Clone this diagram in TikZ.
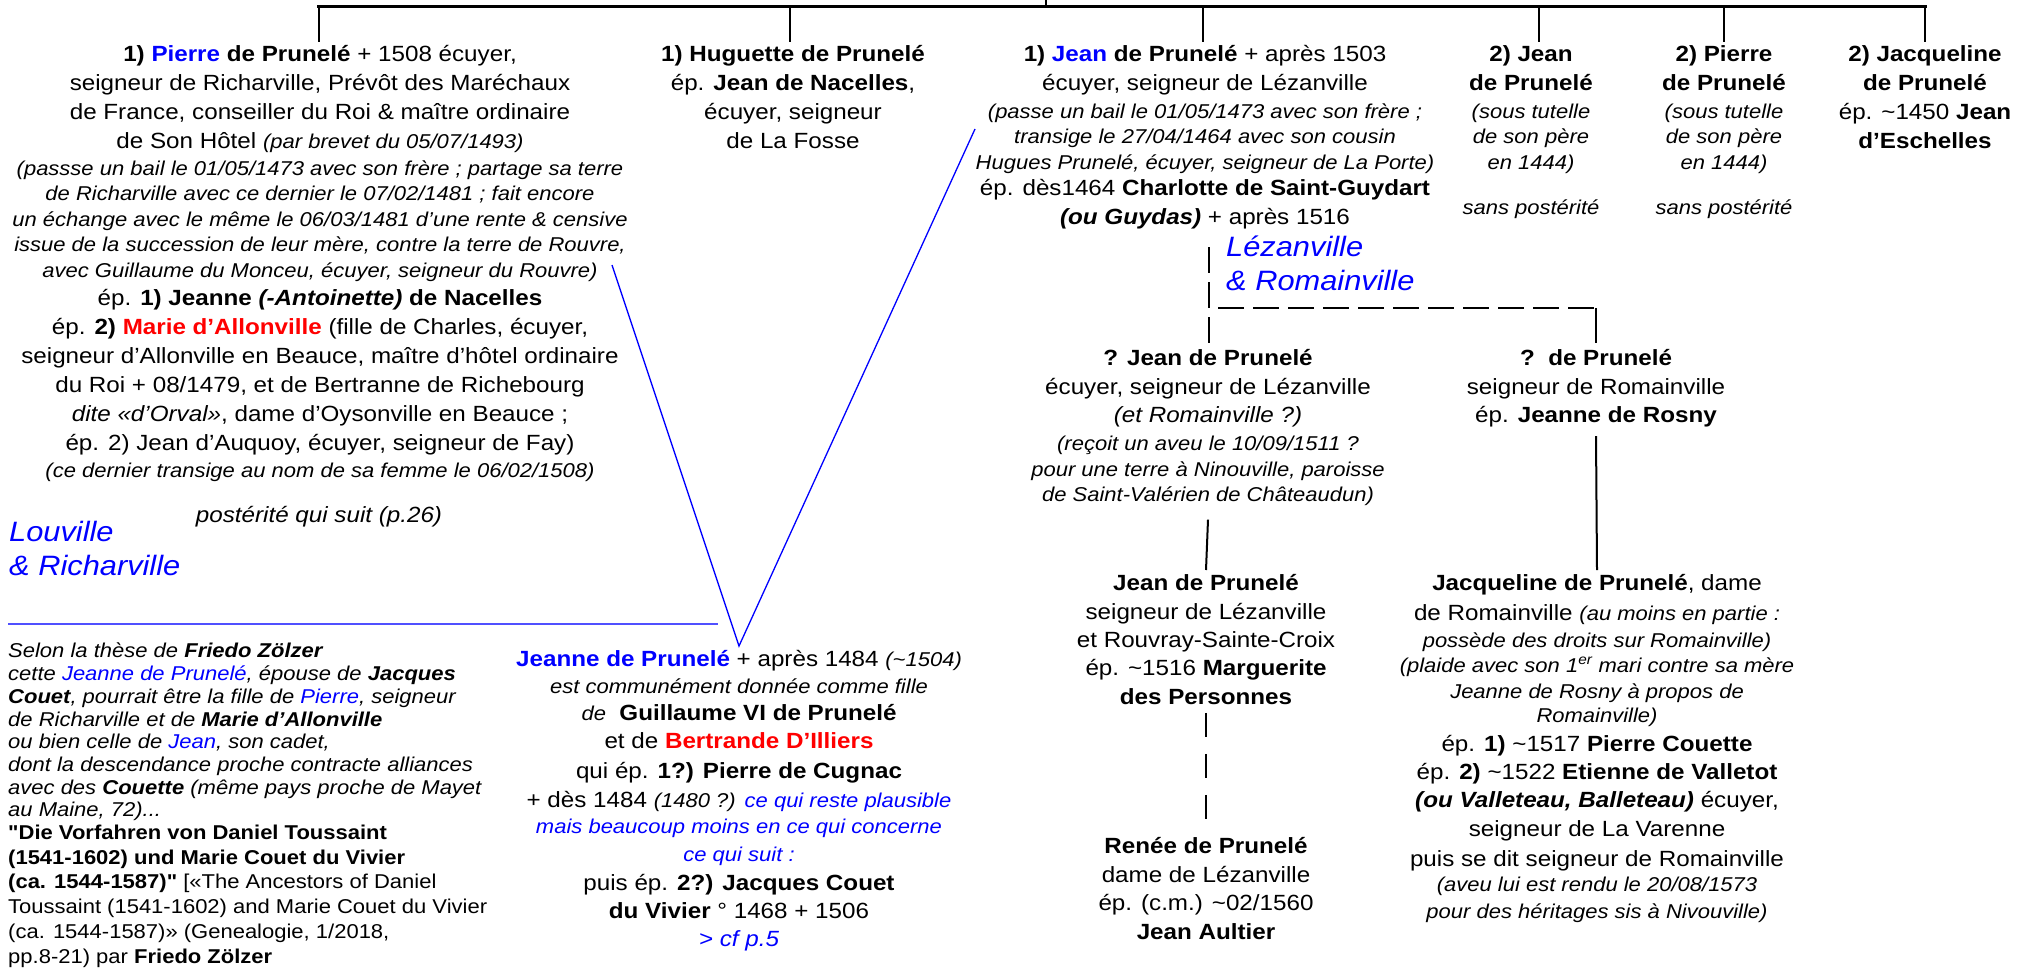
\documentclass[tikz,border=0pt]{standalone}
\usepackage{fontspec}
\setmainfont{Liberation Sans}[FakeStretch=1.10]
\newfontfamily\qfont{Liberation Sans}[FakeStretch=1.10]
\definecolor{pb}{RGB}{0,0,255}
\definecolor{pr}{RGB}{255,0,0}
\definecolor{lb}{RGB}{80,80,255}
\newcommand\tld{{\char"7E}}
\newcommand\dq{{\qfont\char"22}}
\newcommand\nt[1]{{\itshape\fontsize{20}{25}\selectfont #1}}
\newcommand\bl[1]{\textcolor{pb}{#1}}
\newcommand\rd[1]{\textcolor{pr}{#1}}
\begin{document}
\begin{tikzpicture}[x=1pt,y=-1pt,
  blk/.style={align=center, anchor=north, inner sep=0pt, font=\fontsize{22}{29}\selectfont},
  lft/.style={align=left, anchor=north west, inner sep=0pt},
  place/.style={lft, font=\itshape\fontsize{28}{34}\selectfont, text=pb},
  tree/.style={line width=2pt},
  bar/.style={line width=3pt},
  dsh/.style={line width=2.5pt, dash pattern=on 26pt off 9pt},
  dsv/.style={line width=2pt, dash pattern=on 24pt off 17pt},
  vlink/.style={draw=pb, line width=1.3pt},
  hlink/.style={draw=lb, line width=2pt}
]
\useasboundingbox (0,0) rectangle (2028,969);

% ---------- first generation ----------
\node[blk] (pierre) at (320,45) {\textbf{1) \bl{Pierre} de Prunelé} + 1508 écuyer,\\
seigneur de Richarville, Prévôt des Maréchaux\\
de France, conseiller du Roi \& maître ordinaire\\
de Son Hôtel \nt{(par brevet du 05/07/1493)}\\[-2pt]
\nt{(passse un bail le 01/05/1473 avec son frère ; partage sa terre}\\[-3.5pt]
\nt{de Richarville avec ce dernier le 07/02/1481 ; fait encore}\\[-3.5pt]
\nt{un échange avec le même le 06/03/1481 d’une rente \& censive}\\[-3.5pt]
\nt{issue de la succession de leur mère, contre la terre de Rouvre,}\\[-3.5pt]
\nt{avec Guillaume du Monceu, écuyer, seigneur du Rouvre)}\\[-1pt]
ép. \textbf{1) Jeanne \textit{(-Antoinette)} de Nacelles}\\
ép. \textbf{2) \rd{Marie d’Allonville}} (fille de Charles, écuyer,\\
seigneur d’Allonville en Beauce, maître d’hôtel ordinaire\\
du Roi + 08/1479, et de Bertranne de Richebourg\\
\textit{dite «d’Orval»}, dame d’Oysonville en Beauce ;\\
ép. 2) Jean d’Auquoy, écuyer, seigneur de Fay)\\[-2pt]
\nt{(ce dernier transige au nom de sa femme le 06/02/1508)}};

\node[blk, font=\itshape\fontsize{22}{29}\selectfont] (post) at (319,506) {postérité qui suit (p.26)};
\node[place] (lou) at (9,521) {Louville\\ \& Richarville};

\node[blk] (hug) at (793,45) {\textbf{1) Huguette de Prunelé}\\
ép. \textbf{Jean de Nacelles},\\
écuyer, seigneur\\
de La Fosse};

\node[blk] (jean) at (1205,45) {\textbf{1) \bl{Jean} de Prunelé} + après 1503\\
écuyer, seigneur de Lézanville\\[-1pt]
\nt{(passe un bail le 01/05/1473 avec son frère ;}\\[-3.5pt]
\nt{transige le 27/04/1464 avec son cousin}\\[-3pt]
\nt{Hugues Prunelé, écuyer, seigneur de La Porte)}\\[-3pt]
ép. dès1464 \textbf{Charlotte de Saint-Guydart}\\
\textbf{\textit{(ou Guydas)}} + après 1516};
\node[place] (lez) at (1226,236) {Lézanville\\ \& Romainville};

\node[blk] (jean2) at (1531,45) {\textbf{2) Jean}\\ \textbf{de Prunelé}\\[-1pt]
\nt{(sous tutelle}\\[-3.5pt] \nt{de son père}\\[-3pt] \nt{en 1444)}\\[16pt] \nt{sans postérité}};
\node[blk] (pierre2) at (1724,45) {\textbf{2) Pierre}\\ \textbf{de Prunelé}\\[-1pt]
\nt{(sous tutelle}\\[-3.5pt] \nt{de son père}\\[-3pt] \nt{en 1444)}\\[16pt] \nt{sans postérité}};
\node[blk] (jacq2) at (1925,45) {\textbf{2) Jacqueline}\\ \textbf{de Prunelé}\\
ép. \tld1450 \textbf{Jean}\\ \textbf{d’Eschelles}};

% ---------- descendants of Jean ----------
\node[blk] (qjean) at (1208,349) {\textbf{? Jean de Prunelé}\\
écuyer, seigneur de Lézanville\\[-1pt]
\textit{(et Romainville ?)}\\[-1pt]
\nt{(reçoit un aveu le 10/09/1511 ?}\\[-3pt]
\nt{pour une terre à Ninouville, paroisse}\\[-4pt]
\nt{de Saint-Valérien de Châteaudun)}};
\node[blk] (qde) at (1596,349) {\textbf{?\ \ de Prunelé}\\
seigneur de Romainville\\[-1pt]
ép. \textbf{Jeanne de Rosny}};

\node[blk] (jeanb) at (1206,574) {\textbf{Jean de Prunelé}\\
seigneur de Lézanville\\[-1pt]
et Rouvray-Sainte-Croix\\[-1pt]
ép. \tld1516 \textbf{Marguerite}\\
\textbf{des Personnes}};
\node[blk] (renee) at (1206,837) {\textbf{Renée de Prunelé}\\
dame de Lézanville\\[-1pt]
ép. (c.m.) \tld02/1560\\
\textbf{Jean Aultier}};

\node[blk] (jacq) at (1597,574) {\textbf{Jacqueline de Prunelé}, dame\\[1pt]
de Romainville \nt{(au moins en partie :}\\[-2pt]
\nt{possède des droits sur Romainville)}\\[-4pt]
\nt{(plaide avec son 1\textsuperscript{er} mari contre sa mère}\\[-3pt]
\nt{Jeanne de Rosny à propos de}\\[-5pt]
\nt{Romainville)}\\
ép. \textbf{1)} \tld1517 \textbf{Pierre Couette}\\[-1pt]
ép. \textbf{2)} \tld1522 \textbf{Etienne de Valletot}\\[-1pt]
\textbf{\textit{(ou Valleteau, Balleteau)}} écuyer,\\
seigneur de La Varenne\\[1pt]
puis se dit seigneur de Romainville\\[-4pt]
\nt{(aveu lui est rendu le 20/08/1573}\\[-2pt]
\nt{pour des héritages sis à Nivouville)}};

% ---------- Jeanne ----------
\node[blk, font=\fontsize{22}{28}\selectfont] (jeanne) at (739,650) {\textbf{\bl{Jeanne de Prunelé}} + après 1484 \nt{(\tld1504)}\\[-1pt]
\nt{est communément donnée comme fille}\\[-1pt]
\nt{de}\ \ \textbf{Guillaume VI de Prunelé}\\
et de \textbf{\rd{Bertrande D’Illiers}}\\[2pt]
qui ép. \textbf{1?) Pierre de Cugnac}\\[1pt]
+ dès 1484 \nt{(1480 ?)} \nt{\bl{ce qui reste plausible}}\\[-2pt]
\nt{\bl{mais beaucoup moins en ce qui concerne}}\\
\nt{\bl{ce qui suit :}}\\[1pt]
puis ép. \textbf{2?) Jacques Couet}\\
\textbf{du Vivier} ° 1468 + 1506\\
\textit{\bl{> cf p.5}}};

\node[lft, font=\fontsize{20}{22.7}\selectfont] (note) at (8,643) {\textit{Selon la thèse de \textbf{Friedo Zölzer}}\\
\textit{cette \bl{Jeanne de Prunelé}, épouse de \textbf{Jacques}}\\
\textit{\textbf{Couet}, pourrait être la fille de \bl{Pierre}, seigneur}\\
\textit{de Richarville et de \textbf{Marie d’Allonville}}\\
\textit{ou bien celle de \bl{Jean}, son cadet,}\\
\textit{dont la descendance proche contracte alliances}\\
\textit{avec des \textbf{Couette} (même pays proche de Mayet}\\
\textit{au Maine, 72)...}\\
\textbf{\dq Die Vorfahren von Daniel Toussaint}\\[2pt]
\textbf{(1541-1602) und Marie Couet du Vivier}\\[2pt]
\textbf{(ca. 1544-1587)\dq} [«The Ancestors of Daniel\\[2pt]
Toussaint (1541-1602) and Marie Couet du Vivier\\[2pt]
(ca. 1544-1587)» (Genealogie, 1/2018,\\[2pt]
pp.8-21) par \textbf{Friedo Zölzer}};

% ---------- connectors ----------
\coordinate (top) at (1046,0);
\coordinate (barL) at (317,6);
\coordinate (barR) at (1927,6);
\coordinate (t1) at (319,6);
\coordinate (t2) at (790,6);
\coordinate (t3) at (1203,6);
\coordinate (t4) at (1539,6);
\coordinate (t5) at (1724,6);
\coordinate (t6) at (1925,6);
\draw[bar] (barL) -- (barR);
\draw[tree] (top) -- (top |- barL);
\draw[tree] (t1) -- ([yshift=3pt]t1 |- pierre.north);
\draw[tree] (t2) -- ([yshift=3pt]t2 |- hug.north);
\draw[tree] (t3) -- ([yshift=3pt]t3 |- jean.north);
\draw[tree] (t4) -- ([yshift=3pt]t4 |- jean2.north);
\draw[tree] (t5) -- ([yshift=3pt]t5 |- pierre2.north);
\draw[tree] (t6) -- ([yshift=3pt]t6 |- jacq2.north);

\coordinate (dA) at (1209,247);
\coordinate (dB) at (1209,308);
\coordinate (dC) at (1596,308);
\coordinate (dD) at (1209,317);
\draw[dsh] (dA) -- (dB) -- (dC);
\draw[line width=2.5pt] (dC) -- ([yshift=6pt]qde.north);
\draw[line width=2.5pt] (dD) -- ([yshift=6pt]dD |- qjean.north);

\draw[tree] ([yshift=-9pt]qde.south) -- ([yshift=4pt]jacq.north);
\draw[tree] ([yshift=-14pt]qjean.south) -- ([yshift=4pt]jeanb.north);
\draw[dsv] ([yshift=-8pt]jeanb.south) -- ([yshift=10pt]renee.north);

\coordinate (vL) at (612,265);
\coordinate (vR) at (975,129);
\draw[vlink] (vL) -- ([yshift=4pt]jeanne.north) -- (vR);
\coordinate (h1) at (8,624);
\coordinate (h2) at (718,624);
\draw[hlink] (h1) -- (h2);
\end{tikzpicture}
\end{document}
